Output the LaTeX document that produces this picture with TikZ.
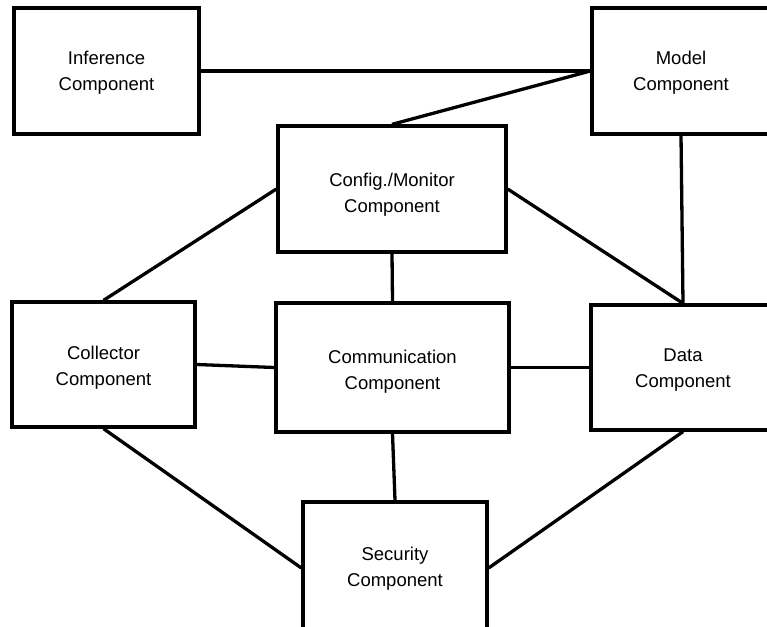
\documentclass[tikz,border=0pt]{standalone}
\usepackage{fontspec}
\setmainfont{Liberation Sans}
\begin{document}
\begin{tikzpicture}[x=1pt,y=-1pt,
  comp/.style={draw=black,line width=3.3pt,rectangle,inner sep=0pt,fill=white},
  lbl/.style={align=center,font=\fontsize{18.5}{26}\selectfont},
  link/.style={line width=3.3pt,draw=black}]
\fill[white] (0,0) rectangle (767,626);
\useasboundingbox (0,0) rectangle (767,626);
\clip (0,0) rectangle (767,626);
\node[comp,minimum width=185pt,minimum height=126pt,label={[lbl,yshift=-2pt]center:Inference\\Component}] (inf) at (106.5,71) {};
\node[comp,minimum width=178pt,minimum height=126pt,label={[lbl,yshift=-2pt]center:Model\\Component}] (model) at (681,71) {};
\node[comp,minimum width=228pt,minimum height=126pt,label={[lbl,yshift=-6pt]center:Config./Monitor\\Component}] (cfg) at (392,189) {};
\node[comp,minimum width=183pt,minimum height=125pt,label={[lbl,yshift=-3pt]center:Collector\\Component}] (col) at (103.5,364.5) {};
\node[comp,minimum width=233pt,minimum height=129pt,label={[lbl,yshift=-4pt]center:Communication\\Component}] (com) at (392.5,367.5) {};
\node[comp,minimum width=184pt,minimum height=125pt,label={[lbl,yshift=-3pt]center:Data\\Component}] (data) at (683,367.5) {};
\node[comp,minimum width=184pt,minimum height=132pt,label={[lbl,yshift=-1pt]center:Security\\Component}] (sec) at (395,568) {};
\draw[link] (inf.east) -- (model.west);
\draw[link] (cfg.north) -- (model.west);
\draw[link] (cfg.south) -- (com.north);
\draw[link] (cfg.west) -- (col.north);
\draw[link] (cfg.east) -- (data.north);
\draw[link] (model.south) -- (data.north);
\draw[link] (col.east) -- (com.west);
\draw[link] (com.east) -- (data.west);
\draw[link] (com.south) -- (sec.north);
\draw[link] (col.south) -- (sec.west);
\draw[link] (sec.east) -- (data.south);
\end{tikzpicture}
\end{document}
